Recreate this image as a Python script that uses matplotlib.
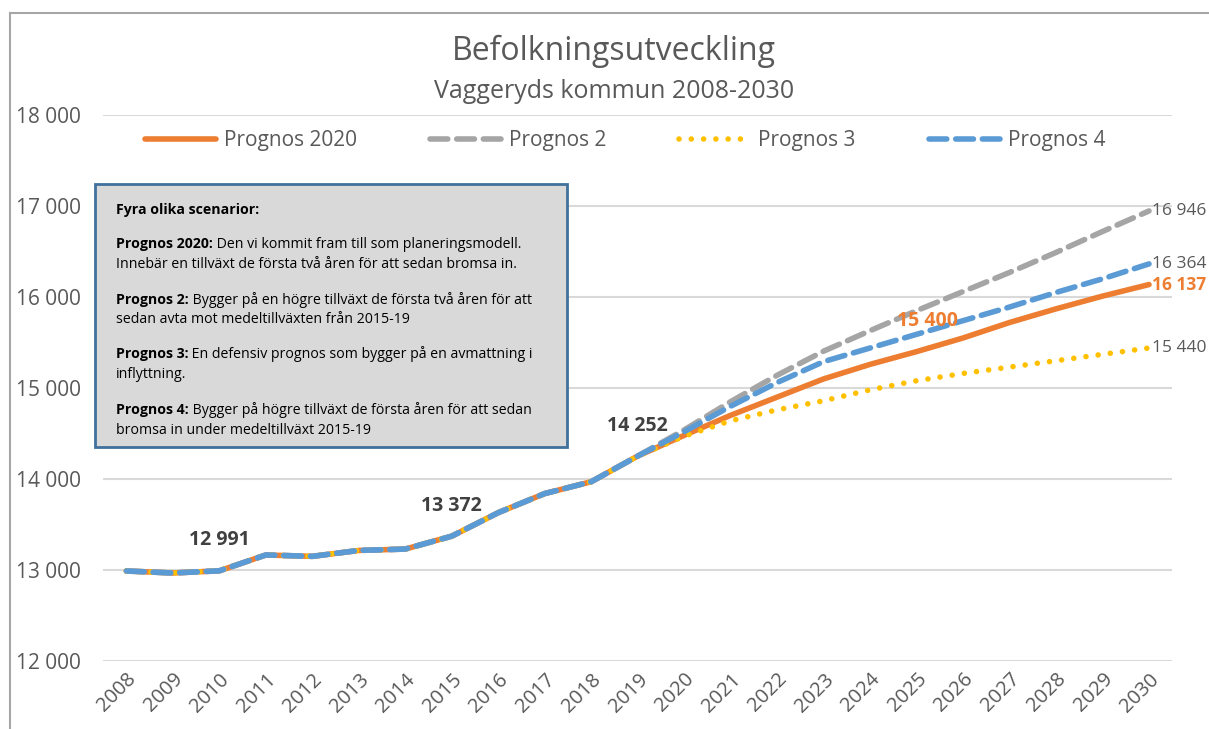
import matplotlib.pyplot as plt
from matplotlib.lines import Line2D
from matplotlib.patches import Rectangle
from matplotlib.transforms import offset_copy

plt.rcParams['font.family'] = ['Open Sans', 'DejaVu Sans']

# data
years = list(range(2008, 2031))
historik = [12989, 12967, 12991, 13165, 13150, 13215, 13230, 13372,
            13630, 13840, 13970, 14252]
prognos_2020 = [14480, 14700, 14900, 15100, 15260, 15400, 15550, 15720,
                15870, 16010, 16137]
prognos_2 = [14540, 14850, 15140, 15405, 15630, 15850, 16060, 16270,
             16490, 16720, 16946]
prognos_3 = [14470, 14640, 14760, 14860, 14980, 15080, 15160, 15230,
             15300, 15370, 15440]
prognos_4 = [14520, 14800, 15060, 15290, 15440, 15590, 15740, 15890,
             16050, 16200, 16364]

series = [
    ("Prognos 2020", prognos_2020, '#ED7D31', '-', 4.0),
    ("Prognos 2", prognos_2, '#A5A5A5', (0, (3.2, 1.6)), 4.0),
    ("Prognos 3", prognos_3, '#FFC000', (0, (0.01, 2.2)), 4.0),
    ("Prognos 4", prognos_4, '#5B9BD5', (0, (3.2, 1.6)), 4.0),
]

hist_labels = {2010: "12 991", 2015: "13 372", 2019: "14 252"}

textcol = '#595959'

fig = plt.figure(figsize=(12.09, 7.29), dpi=100)
ax = fig.add_axes([0.0853, 0.0933, 0.8843, 0.7489])

x_idx = list(range(len(years)))
for name, vals, col, ls, lw in series:
    full = historik + vals
    ax.plot(x_idx, full, color=col, lw=lw, ls=ls, dash_capstyle='round',
            solid_capstyle='round', solid_joinstyle='round', zorder=3)

ax.set_xlim(-0.5, len(years) - 0.5)
ax.set_ylim(12000, 18000)
ax.set_yticks(range(12000, 18001, 1000))
ax.set_yticklabels([f"{v // 1000} {v % 1000:03d}" for v in range(12000, 18001, 1000)])
ax.set_xticks(x_idx)
ax.set_xticklabels([str(y) for y in years], rotation=45, ha='right',
                   rotation_mode='anchor')
ax.tick_params(axis='both', length=0, labelsize=15, colors=textcol)
ax.tick_params(axis='y', pad=16)
ax.tick_params(axis='x', pad=6, labelsize=14.5)
ax.grid(axis='y', color='#d9d9d9', lw=1.5)
ax.set_axisbelow(True)
for s in ax.spines.values():
    s.set_visible(False)

# data labels on the historical part
for yr, lab in hist_labels.items():
    i = years.index(yr)
    ax.annotate(lab, (i, historik[i]), xytext=(0, 22),
                textcoords='offset points', ha='center', va='center',
                fontsize=14, fontweight='bold', color='#404040')

i25 = years.index(2025)
ax.annotate("15 400", (i25, prognos_2020[i25 - len(historik)]), xytext=(8, 22),
            textcoords='offset points', ha='center', va='center',
            fontsize=14, fontweight='bold', color='#ED7D31')

# end labels
last = len(years) - 1
end_labels = [(prognos_2[-1], '16 946', textcol, 'normal'),
              (prognos_4[-1], '16 364', textcol, 'normal'),
              (prognos_2020[-1], '16 137', '#ED7D31', 'bold'),
              (prognos_3[-1], '15 440', textcol, 'normal')]
for val, lab, col, fw in end_labels:
    ax.annotate(lab, (last, val), xytext=(2, 0), textcoords='offset points',
                ha='left', va='center', fontsize=12.5, color=col,
                fontweight=fw, annotation_clip=False)

# title
fig.text(0.508, 0.929, "Befolkningsutveckling", ha='center', va='center',
         fontsize=23, color=textcol)
fig.text(0.508, 0.875, "Vaggeryds kommun 2008-2030", ha='center', va='center',
         fontsize=18, color=textcol)

# legend
handles = [Line2D([], [], color=c, lw=lw, ls=ls, dash_capstyle='round',
                  solid_capstyle='round') for _, _, c, ls, lw in series]
leg = fig.legend(handles, [s[0] for s in series], loc='center',
                 bbox_to_anchor=(0.517, 0.807), ncol=4, frameon=False,
                 fontsize=15, handlelength=3.4, columnspacing=3.5,
                 handletextpad=0.4)
for t in leg.get_texts():
    t.set_color(textcol)

# outer frame (chart area border, only top and left visible)
fig.add_artist(Line2D([10 / 1209, 10 / 1209], [0, 1 - 13 / 729],
                      color='#a6a6a6', lw=1.5, transform=fig.transFigure))
fig.add_artist(Line2D([10 / 1209, 1], [1 - 13 / 729, 1 - 13 / 729],
                      color='#a6a6a6', lw=1.5, transform=fig.transFigure))

# text box
bx0, by0, bx1, by1 = 95, 184, 567, 447
fig.add_artist(Rectangle((bx0 / 1209, 1 - by1 / 729), (bx1 - bx0) / 1209,
                         (by1 - by0) / 729, transform=fig.transFigure,
                         facecolor='#d9d9d9', edgecolor='#41719C', lw=2,
                         zorder=5))

box_lines = [
    ("Fyra olika scenarior:", "", 210),
    ("Prognos 2020:", " Den vi kommit fram till som planeringsmodell.", 244),
    ("", "Innebär en tillväxt de första två åren för att sedan bromsa in.", 264),
    ("Prognos 2:", " Bygger på en högre tillväxt de första två åren för att", 300),
    ("", "sedan avta mot medeltillväxten från 2015-19", 320),
    ("Prognos 3:", " En defensiv prognos som bygger på en avmattning i", 354),
    ("", "inflyttning.", 374),
    ("Prognos 4:", " Bygger på högre tillväxt de första åren för att sedan", 410),
    ("", "bromsa in under medeltillväxt 2015-19", 430),
]
fig.canvas.draw()
renderer = fig.canvas.get_renderer()
tx = 116 / 1209
for bold, rest, ypx in box_lines:
    yf = 1 - ypx / 729
    xoff = 0
    if bold:
        bt = fig.text(tx, yf, bold, fontsize=10.2, fontweight='bold',
                      color='#000000', va='center', ha='left', zorder=6)
        xoff = bt.get_window_extent(renderer).width
    if rest:
        trans = offset_copy(fig.transFigure, fig=fig, x=xoff * 72 / fig.dpi,
                            y=0, units='points')
        fig.text(tx, yf, rest, fontsize=10.2, color='#000000', va='center',
                 ha='left', transform=trans, zorder=6)

fig.savefig('out.png', dpi=100)
